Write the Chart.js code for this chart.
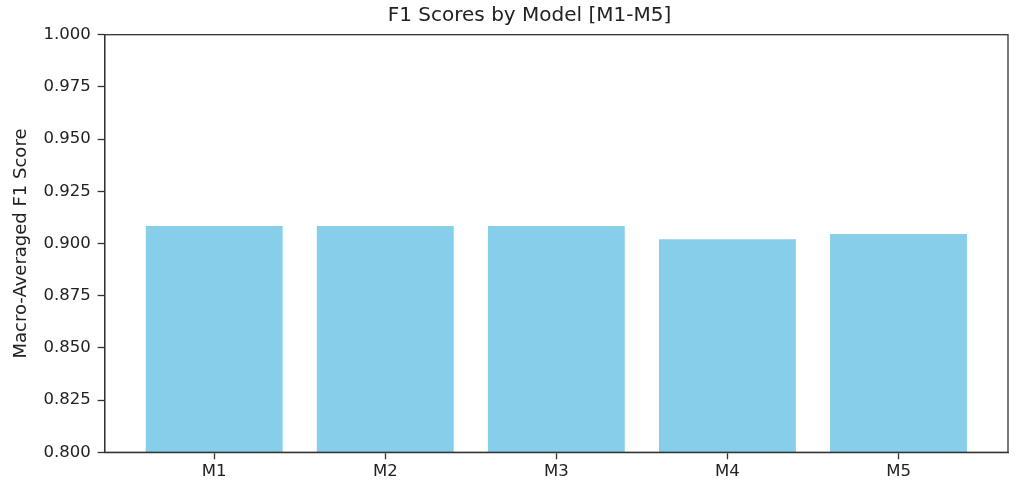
<!DOCTYPE html>
<html>
<head>
<meta charset="utf-8">
<script src="https://cdn.jsdelivr.net/npm/chart.js@4"></script>
<style>
html,body{margin:0;padding:0;background:#fff;}
#wrap{width:1023px;height:487px;}
</style>
</head>
<body>
<div id="wrap"><canvas id="c" width="1023" height="487"></canvas></div>
<script>
const categories = ['M1', 'M2', 'M3', 'M4', 'M5'];
const f1Scores = [0.9084, 0.9084, 0.9084, 0.9020, 0.9046];
const yTicks = [0.800, 0.825, 0.850, 0.875, 0.900, 0.925, 0.950, 0.975, 1.000];
const chartTitle = 'F1 Scores by Model [M1-M5]';
const yLabel = 'Macro-Averaged F1 Score';

const FONT = 'DejaVu Sans';
const INK = '#222';
const SPINE = '#333';

const framePlugin = {
  id: 'frame',
  afterDatasetsDraw(chart) {
    const {ctx, chartArea: a} = chart;
    ctx.save();
    ctx.strokeStyle = SPINE;
    ctx.lineWidth = 1.3;
    ctx.strokeRect(a.left, a.top, a.right - a.left, a.bottom - a.top);
    ctx.restore();
  }
};

new Chart(document.getElementById('c'), {
  type: 'bar',
  data: {
    datasets: [{
      data: categories.map((c, i) => ({x: i, y: f1Scores[i]})),
      backgroundColor: '#87CEEB',
      borderWidth: 0,
      barPercentage: 0.8,
      categoryPercentage: 1.0
    }]
  },
  options: {
    responsive: false,
    animation: false,
    devicePixelRatio: 1,
    layout: {padding: {left: 14, right: -22, top: 0, bottom: 0}},
    plugins: {
      legend: {display: false},
      tooltip: {enabled: false},
      title: {
        display: true,
        text: chartTitle,
        color: INK,
        font: {family: FONT, size: 20, weight: 'normal'},
        padding: {top: 3.4, bottom: 7.3}
      }
    },
    scales: {
      x: {
        type: 'linear',
        offset: false,
        min: -0.64,
        max: 4.64,
        afterBuildTicks(scale) { scale.ticks = categories.map((c, i) => ({value: i})); },
        afterFit(scale) { scale.height = 34.7; },
        ticks: {
          callback: (v) => categories[v] ?? '',
          color: INK,
          font: {family: FONT, size: 16.5},
          padding: 3,
          maxRotation: 0,
          autoSkip: false
        },
        grid: {display: true, offset: false, drawOnChartArea: false, drawTicks: true, tickLength: 7, color: SPINE, tickWidth: 1.3},
        border: {display: true, color: SPINE, width: 1.3}
      },
      y: {
        min: 0.8,
        max: 1.0,
        afterBuildTicks(scale) { scale.ticks = yTicks.map(v => ({value: v})); },
        afterFit(scale) { scale.width = 90.7; },
        ticks: {
          callback: (v) => Number(v).toFixed(3),
          color: INK,
          font: {family: FONT, size: 16.5},
          padding: 7
        },
        title: {
          display: true,
          text: yLabel,
          color: INK,
          font: {family: FONT, size: 18},
          padding: {top: -3.8, bottom: 0}
        },
        grid: {display: true, drawOnChartArea: false, drawTicks: true, tickLength: 7, color: SPINE, tickWidth: 1.3},
        border: {display: true, color: SPINE, width: 1.3}
      },
      yRight: {
        position: 'right',
        display: true,
        afterFit(scale) { scale.width = 37; },
        ticks: {display: false},
        grid: {display: false},
        border: {display: false}
      }
    }
  },
  plugins: [framePlugin]
});
</script>
</body>
</html>
